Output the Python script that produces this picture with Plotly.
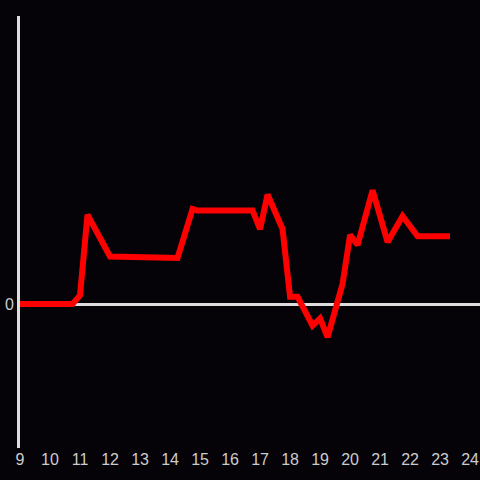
import plotly.graph_objects as go

# hour of day vs value
hours = [9.0, 10.75, 11.0, 11.25, 12.0, 14.25, 14.75, 14.9, 16.75, 17.0, 17.25,
         17.75, 18.0, 18.25, 18.75, 19.0, 19.25, 19.75, 20.0, 20.25, 20.75,
         21.25, 21.75, 22.25, 23.33]
values = [0.0, 0.0, 0.06, 0.62, 0.33, 0.32, 0.66, 0.65, 0.65, 0.52, 0.76,
          0.52, 0.05, 0.05, -0.15, -0.10, -0.23, 0.14, 0.48, 0.41, 0.79,
          0.43, 0.61, 0.47, 0.47]
x_ticks = list(range(9, 25))

fig = go.Figure()

fig.add_trace(go.Scatter(
    x=hours,
    y=values,
    mode='lines',
    line=dict(color='#ff0000', width=6),
    showlegend=False
))

fig.update_layout(
    width=480,
    height=480,
    paper_bgcolor='#050308',
    plot_bgcolor='#050308',
    margin=dict(l=20, r=0, t=16, b=32),
    font=dict(family='Liberation Sans Narrow, Arial Narrow, sans-serif', size=16, color='#cccccc'),
    xaxis=dict(
        range=[9, 24.33],
        tickvals=x_ticks,
        showgrid=False,
        zeroline=False,
        showline=False,
        ticks=''
    ),
    yaxis=dict(
        range=[-1, 2.0],
        tickvals=[0],
        showgrid=False,
        zeroline=True,
        zerolinecolor='#dddddd',
        zerolinewidth=3,
        showline=True,
        linecolor='#dddddd',
        linewidth=3,
        ticks=''
    )
)

# drop the page's default body margin so the figure fills the window
fig.write_html(
    "out.html",
    config={'displayModeBar': False},
    post_script="document.body.style.margin='0';document.body.style.background='#050308';"
)
